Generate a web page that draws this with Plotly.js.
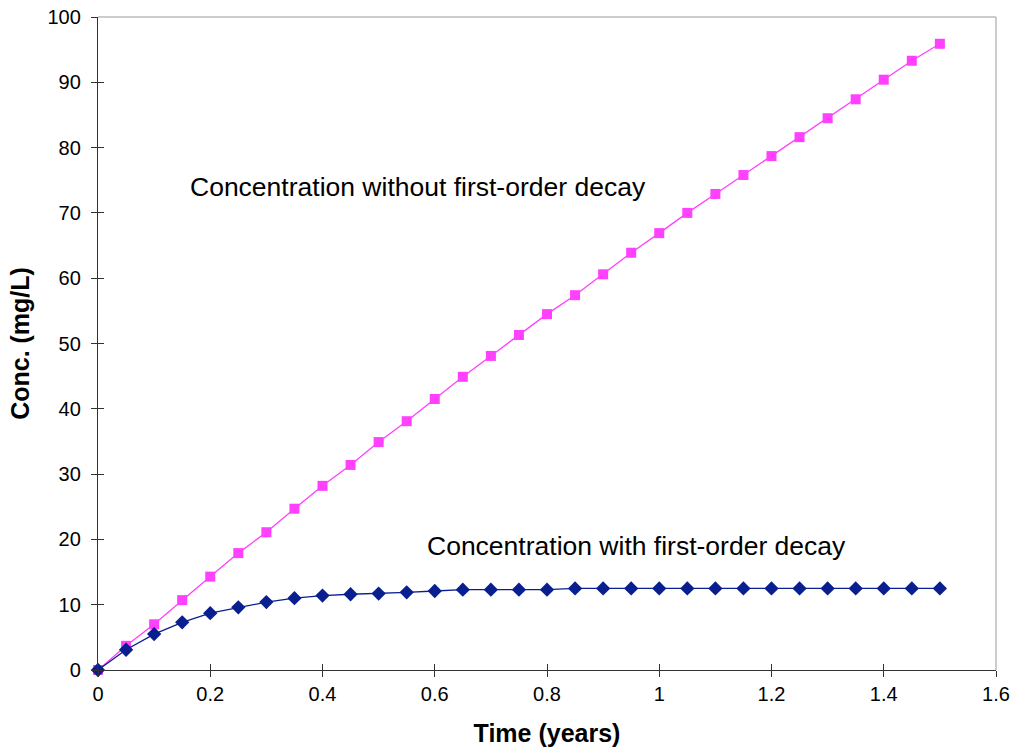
<!DOCTYPE html>
<html>
<head>
<meta charset="utf-8">
<script src="https://cdn.plot.ly/plotly-3.0.1.min.js"></script>
<style>html,body{margin:0;padding:0;background:#fff;}#chart{width:1015px;height:753px;}</style>
</head>
<body>
<div id="chart"></div>
<script>
const timeYears = [0,0.05,0.1,0.15,0.2,0.25,0.3,0.35,0.4,0.45,0.5,0.55,0.6,0.65,0.7,0.75,0.8,0.85,0.9,0.95,1.0,1.05,1.1,1.15,1.2,1.25,1.3,1.35,1.4,1.45,1.5];
const concNoDecay = [0,3.7,7.0,10.7,14.3,17.9,21.1,24.7,28.2,31.4,34.9,38.1,41.5,44.9,48.1,51.3,54.5,57.4,60.6,63.9,66.9,70.0,72.9,75.8,78.7,81.6,84.5,87.4,90.4,93.3,95.9];
const concDecay = [0,3.1,5.5,7.3,8.7,9.6,10.4,11.0,11.4,11.6,11.7,11.9,12.1,12.3,12.3,12.3,12.3,12.5,12.5,12.5,12.5,12.5,12.5,12.5,12.5,12.5,12.5,12.5,12.5,12.5,12.5];
const xTicks = [0,0.2,0.4,0.6,0.8,1,1.2,1.4,1.6];
const yTicks = [0,10,20,30,40,50,60,70,80,90,100];
const labelNoDecay = "Concentration without first-order decay";
const labelDecay = "Concentration with first-order decay";

const font = "Arial, 'Liberation Sans', sans-serif";

const traces = [
  {x: timeYears, y: concNoDecay, mode: 'lines+markers', name: 'without decay',
   line: {color: '#FF40FF', width: 1.3}, marker: {symbol: 'square', size: 10, color: '#FF40FF'}, cliponaxis: false},
  {x: timeYears, y: concDecay, mode: 'lines+markers', name: 'with decay',
   line: {color: '#0A1F8F', width: 1.3}, marker: {symbol: 'diamond', size: 11, color: '#0A1F8F'}, cliponaxis: false},
  {x: [0], y: [0], xaxis: 'x2', yaxis: 'y2', mode: 'markers', marker: {opacity: 0}, hoverinfo: 'skip', showlegend: false}
];

const layout = {
  width: 1015, height: 753,
  margin: {l: 98, r: 19, t: 17, b: 83},
  paper_bgcolor: '#fff', plot_bgcolor: '#fff',
  showlegend: false,
  font: {family: font, color: '#000'},
  xaxis: {
    range: [0, 1.6], tickvals: xTicks, ticktext: xTicks.map(String),
    showgrid: false, zeroline: false, showline: true, linecolor: '#333', linewidth: 1.2,
    ticks: 'outside', ticklen: 6, tickcolor: '#333', tickfont: {size: 20, family: font},
    title: {text: '<b>Time (years)</b>', font: {size: 25, family: font}, standoff: 20}
  },
  yaxis: {
    range: [0, 100], tickvals: yTicks,
    showgrid: false, zeroline: false, showline: true, linecolor: '#333', linewidth: 1.2,
    ticks: 'outside', ticklen: 6, tickcolor: '#333', tickfont: {size: 20, family: font},
    ticklabelstandoff: 6,
    title: {text: '<b>Conc. (mg/L)</b>', font: {size: 25, family: font}, standoff: 10}
  },
  xaxis2: {overlaying: 'x', matches: 'x', range: [0, 1.6], tickvals: xTicks, showticklabels: false,
    showgrid: false, zeroline: false, showline: false, ticks: 'inside', ticklen: 6, tickcolor: '#333', side: 'bottom'},
  yaxis2: {overlaying: 'y', range: [0, 100], tickvals: yTicks, showticklabels: false,
    showgrid: false, zeroline: false, showline: false, ticks: 'inside', ticklen: 6, tickcolor: '#333', side: 'left'},
  shapes: [
    {type: 'line', xref: 'paper', yref: 'paper', x0: 0, x1: 1, y0: 1, y1: 1, line: {color: '#BBBBBB', width: 1.5}},
    {type: 'line', xref: 'paper', yref: 'paper', x0: 1, x1: 1, y0: 0, y1: 1, line: {color: '#BBBBBB', width: 1.5}}
  ],
  annotations: [
    {x: 0.16, y: 74, xref: 'x', yref: 'y', text: labelNoDecay, showarrow: false, xanchor: 'left', yanchor: 'middle',
     font: {size: 26.5, family: font, color: '#000'}},
    {x: 0.583, y: 19, xref: 'x', yref: 'y', text: labelDecay, showarrow: false, xanchor: 'left', yanchor: 'middle',
     font: {size: 26.5, family: font, color: '#000'}}
  ]
};

Plotly.newPlot('chart', traces, layout, {displayModeBar: false, staticPlot: true});
</script>
</body>
</html>
